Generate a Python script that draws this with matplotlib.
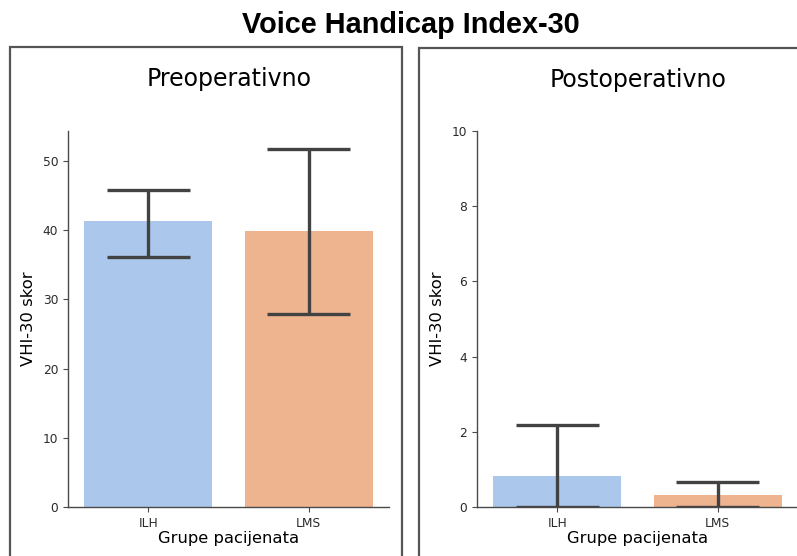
import numpy as np
import matplotlib.pyplot as plt
from matplotlib.patches import Rectangle

# data
groups = ['ILH', 'LMS']
pre_mean = [41.3, 39.8]
pre_lo = [36.1, 27.8]
pre_hi = [45.8, 51.7]
post_mean = [0.83, 0.32]
post_lo = [0.0, 0.0]
post_hi = [2.17, 0.67]

bar_colors = ['#abc7eb', '#eeb48f']
err_color = '#424242'

W, H = 797, 556
fig = plt.figure(figsize=(W / 100, H / 100), dpi=100)

def px(x0, y0, x1, y1):
    # pixel box (top-left origin) -> figure fraction
    return [x0 / W, 1 - y1 / H, (x1 - x0) / W, (y1 - y0) / H]

# frames around the two panels
for x0, y0, x1 in [(10, 47, 402), (419, 48, 820)]:
    fig.patches.append(Rectangle((x0 / W, -0.1), (x1 - x0) / W, 1 - y0 / H + 0.1,
                                 transform=fig.transFigure, fill=False,
                                 edgecolor='#555555', linewidth=1.6))

def panel(ax, mean, lo, hi, ymax, yticks):
    x = np.arange(len(groups))
    ax.bar(x, mean, width=0.8, color=bar_colors)
    for xi, l, h in zip(x, lo, hi):
        ax.plot([xi, xi], [l, h], color=err_color, lw=2.4, solid_capstyle='butt')
        ax.plot([xi - 0.26, xi + 0.26], [l, l], color=err_color, lw=2.4, solid_capstyle='butt')
        ax.plot([xi - 0.26, xi + 0.26], [h, h], color=err_color, lw=2.4, solid_capstyle='butt')
    ax.set_xlim(-0.5, 1.5)
    ax.set_ylim(0, ymax)
    ax.set_yticks(yticks)
    ax.set_xticks(x)
    ax.set_xticklabels(groups)
    for s in ['top', 'right']:
        ax.spines[s].set_visible(False)
    for s in ['left', 'bottom']:
        ax.spines[s].set_color('#4a4a4a')
        ax.spines[s].set_linewidth(1.0)
    ax.tick_params(colors='#4a4a4a', labelcolor='#2a2a2a', labelsize=8.8, length=3.5)
    ax.set_xlabel('Grupe pacijenata', fontsize=11.8, labelpad=1)
    ax.set_ylabel('VHI-30 skor', fontsize=11.8, labelpad=5)

ax1 = fig.add_axes(px(68, 131, 389, 507))
panel(ax1, pre_mean, pre_lo, pre_hi, 54.3, np.arange(0, 51, 10))

ax2 = fig.add_axes(px(477, 131, 798, 507))
panel(ax2, post_mean, post_lo, post_hi, 10, np.arange(0, 11, 2))

fig.text(229 / W, 1 - 79 / H, 'Preoperativno', fontsize=17, ha='center', va='center')
fig.text(638 / W, 1 - 80 / H, 'Postoperativno', fontsize=17, ha='center', va='center')
fig.text(411 / W, 1 - 25 / H, 'Voice Handicap Index-30', fontsize=20.8, fontweight='bold',
         family='Liberation Sans', ha='center', va='center')

fig.savefig('out.png', dpi=100)
